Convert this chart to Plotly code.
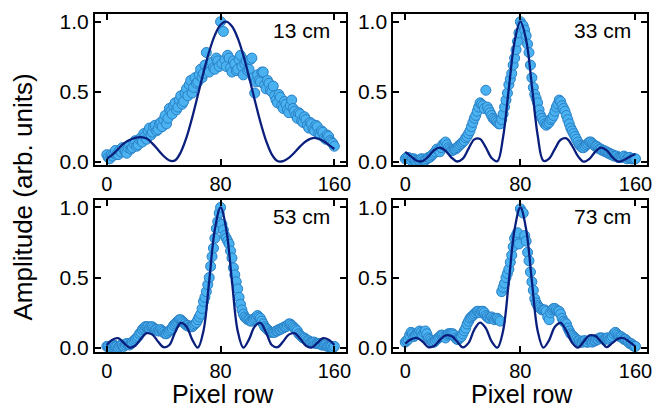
import plotly.graph_objects as go
from plotly.subplots import make_subplots

# ---------------- data ----------------
labels = ["13 cm", "33 cm", "53 cm", "73 cm"]
x_pts = list(range(0, 161))
x_fit = list(range(0, 161, 4))

pts_13 = [.05, .03, .02, .05, .04, .06, .08, .05, .05, .08, .07, .10, .09, .07, .06, .10, .12, .09, .10, .13,
          .15, .11, .12, .16, .17, .14, .20, .18, .16, .22, .24, .19, .21, .25, .26, .22, .23, .27, .28, .25,
          .30, .33, .27, .31, .38, .36, .34, .40, .42, .37, .39, .44, .47, .41, .43, .49, .52, .47, .55, .58,
          .49, .53, .60, .56, .57, .62, .66, .60, .63, .69, .78, .66, .64, .70, .71, .67, .66, .74, .72, .68,
          1.00, .70, .93, .73, .68, .76, .74, .67, .64, .72, .70, .65, .66, .73, .76, .68, .62, .70, .72, .65,
          .66, .73, .74, .60, .49, .57, .62, .58, .57, .64, .64, .55, .52, .58, .56, .51, .50, .54, .47, .44,
          .42, .48, .46, .40, .38, .43, .41, .37, .35, .40, .44, .38, .36, .33, .31, .35, .34, .29, .28, .32,
          .30, .26, .24, .28, .27, .23, .22, .26, .25, .20, .19, .22, .21, .17, .16, .19, .18, .15, .14, .13,
          .11]
pts_33 = [.02, .03, .03, .02, .01, .02, .02, .01, .00, .01, .01, .02, .02, .01, .01, .02, .03, .03, .04, .05,
          .06, .07, .09, .08, .07, .10, .12, .13, .14, .12, .10, .09, .08, .08, .09, .09, .10, .11, .12, .13,
          .14, .15, .17, .18, .20, .22, .25, .28, .31, .33, .36, .39, .42, .41, .40, .38, .51, .39, .37, .35,
          .33, .31, .30, .29, .28, .27, .27, .30, .34, .39, .44, .49, .55, .59, .63, .69, .74, .80, .86, .92,
          1.00, .98, .97, .94, .90, .84, .78, .69, .60, .53, .48, .45, .42, .37, .33, .31, .29, .27, .26, .27,
          .28, .30, .31, .33, .36, .39, .41, .44, .43, .40, .38, .36, .33, .30, .27, .24, .22, .20, .18, .16,
          .14, .12, .11, .10, .10, .11, .12, .13, .14, .14, .13, .12, .11, .11, .10, .09, .09, .08, .08, .07,
          .07, .06, .06, .05, .05, .04, .04, .04, .03, .03, .03, .03, .04, .03, .02, .03, .03, .02, .02, .02,
          .02]
pts_53 = [.01, .01, .00, .01, .02, .02, .01, .01, .00, .01, .02, .02, .01, .02, .03, .03, .02, .03, .04, .05,
          .06, .07, .08, .10, .11, .13, .14, .15, .15, .15, .14, .15, .15, .14, .13, .13, .12, .12, .13, .12,
          .11, .10, .10, .11, .12, .13, .14, .16, .17, .18, .19, .20, .20, .19, .18, .17, .16, .16, .15, .15,
          .15, .16, .17, .18, .20, .22, .24, .28, .33, .36, .40, .45, .50, .58, .65, .71, .78, .85, .90, .96,
          1.00, .88, .84, .80, .78, .76, .74, .69, .64, .57, .52, .47, .42, .36, .31, .27, .24, .22, .21, .20,
          .20, .19, .19, .20, .21, .22, .23, .22, .21, .19, .17, .15, .14, .13, .12, .11, .11, .11, .11, .12,
          .12, .13, .13, .14, .14, .15, .15, .16, .17, .17, .16, .15, .14, .13, .12, .10, .09, .08, .07, .07,
          .06, .05, .05, .04, .04, .04, .04, .03, .03, .03, .03, .02, .02, .02, .02, .01, .01, .01, .01, .00,
          .01]
pts_73 = [.04, .05, .06, .09, .11, .10, .08, .09, .10, .11, .12, .11, .09, .11, .12, .10, .07, .06, .05, .04,
          .04, .05, .06, .07, .08, .09, .09, .08, .07, .09, .10, .10, .10, .10, .09, .07, .06, .06, .07, .08,
          .10, .12, .14, .17, .19, .21, .22, .23, .24, .25, .26, .26, .25, .26, .26, .25, .23, .22, .21, .21,
          .22, .21, .20, .21, .21, .20, .19, .40, .43, .46, .50, .53, .56, .61, .66, .72, .78, .80, .82, .74,
          .99, .97, .96, .80, .76, .68, .62, .54, .47, .41, .35, .32, .30, .29, .28, .27, .27, .27, .26, .22,
          .20, .25, .27, .28, .28, .27, .26, .26, .24, .21, .19, .18, .17, .14, .12, .10, .09, .08, .07, .06,
          .05, .05, .04, .04, .05, .05, .04, .04, .05, .05, .04, .05, .05, .06, .06, .07, .07, .07, .06, .06,
          .07, .07, .06, .07, .08, .10, .11, .10, .09, .08, .08, .07, .06, .06, .05, .04, .03, .03, .02, .01,
          .01]

fit_13 = [0.02, 0.05, 0.09, 0.13, 0.155, 0.17, 0.175, 0.165, 0.13, 0.085,
          0.04, 0.008, 0.009, 0.067, 0.172, 0.313, 0.474, 0.638, 0.787, 0.904,
          0.978, 1.0, 0.967, 0.884, 0.759, 0.606, 0.441, 0.283, 0.149, 0.052,
          0.004, 0.004, 0.027, 0.065, 0.109, 0.146, 0.167, 0.167, 0.15, 0.12,
          0.09]
fit_33 = [0.07, 0.037, 0.006, 0.003, 0.036, 0.081, 0.100, 0.077, 0.031, 0.001,
          0.021, 0.093, 0.159, 0.162, 0.101, 0.026, 0.003, 0.176, 0.524, 0.859,
          1.0, 0.871, 0.542, 0.190, 0.006, 0.022, 0.091, 0.156, 0.166, 0.113,
          0.039, 0.000, 0.020, 0.070, 0.100, 0.080, 0.031, 0.000, 0.012, 0.035,
          0.055]
fit_53 = [0.02, 0.058, 0.068, 0.035, 0.002, 0.015, 0.065, 0.104, 0.094, 0.045,
          0.004, 0.020, 0.109, 0.177, 0.151, 0.060, 0.001, 0.122, 0.475, 0.845,
          1.0, 0.845, 0.475, 0.122, 0.001, 0.060, 0.151, 0.177, 0.109, 0.020,
          0.004, 0.045, 0.094, 0.104, 0.065, 0.015, 0.002, 0.035, 0.068, 0.058,
          0.02]
fit_73 = [0.03, 0.06, 0.07, 0.045, 0.005, 0.012, 0.055, 0.088, 0.085, 0.045,
          0.003, 0.035, 0.13, 0.18, 0.14, 0.045, 0.001, 0.122, 0.475, 0.845,
          1.0, 0.845, 0.475, 0.122, 0.001, 0.055, 0.15, 0.178, 0.12, 0.035,
          0.001, 0.045, 0.088, 0.085, 0.045, 0.005, 0.035, 0.065, 0.068, 0.04,
          0.008]

points = [pts_13, pts_33, pts_53, pts_73]
fits = [fit_13, fit_33, fit_53, fit_73]

x_ticks = [0, 80, 160]
y_ticks = [0, 0.5, 1.0]
y_ticktext = ["0.0", "0.5", "1.0"]

# ---------------- figure ----------------
FONT = "Liberation Sans, Arial, Helvetica, sans-serif"
fig = make_subplots(rows=2, cols=2)

pos = [(1, 1), (1, 2), (2, 1), (2, 2)]
for i, (r, c) in enumerate(pos):
    fig.add_trace(go.Scatter(
        x=x_pts, y=points[i], mode="markers",
        marker=dict(size=10, color="#4ab2f0", line=dict(color="#2a80c6", width=1)),
        showlegend=False), row=r, col=c)
    fig.add_trace(go.Scatter(
        x=x_fit, y=fits[i], mode="lines", line=dict(color="#0a1f7d", width=2.3, shape="spline"),
        showlegend=False), row=r, col=c)

xdom = {1: [0.0, 0.4542], 2: [0.5404, 1.0]}
ydom = {1: [0.5533, 1.0], 2: [0.0, 0.4497]}
yr = {1: [-0.024, 1.055], 2: [-0.03, 1.053]}

for i, (r, c) in enumerate(pos):
    fig.update_xaxes(domain=xdom[c], range=[-8.3, 168], tickvals=x_ticks,
                     ticks="inside", ticklen=6, tickwidth=2, tickcolor="black",
                     showline=True, linewidth=2, linecolor="black", mirror="allticks",
                     showgrid=False, zeroline=False,
                     tickfont=dict(family=FONT, size=20, color="black"),
                     row=r, col=c)
    fig.update_yaxes(domain=ydom[r], range=yr[r], tickvals=y_ticks, ticktext=y_ticktext,
                     ticks="inside", ticklen=6, tickwidth=2, tickcolor="black",
                     showline=True, linewidth=2, linecolor="black", mirror="allticks",
                     showgrid=False, zeroline=False,
                     tickfont=dict(family=FONT, size=21, color="black"),
                     row=r, col=c)

annotations = []
axnames = ["", "2", "3", "4"]
for i in range(4):
    annotations.append(dict(
        text=labels[i], xref=f"x{axnames[i]} domain", yref=f"y{axnames[i]} domain",
        x=0.945, y=0.89, xanchor="right", yanchor="middle", showarrow=False,
        font=dict(family=FONT, size=21, color="black")))

annotations.append(dict(text="Amplitude (arb. units)", xref="paper", yref="paper",
                        x=-0.131, y=0.459, textangle=-90, showarrow=False,
                        xanchor="center", yanchor="middle",
                        font=dict(family=FONT, size=26, color="black")))
for cx in [0.2316, 0.774]:
    annotations.append(dict(text="Pixel row", xref="paper", yref="paper",
                            x=cx, y=-0.1686, showarrow=False, xanchor="center", yanchor="bottom",
                            borderpad=0,
                            font=dict(family=FONT, size=25, color="black")))

fig.update_layout(width=659, height=410, margin=dict(l=95, r=7, t=14, b=58),
                  plot_bgcolor="white", paper_bgcolor="white",
                  annotations=annotations)

fig.write_html("out.html")
